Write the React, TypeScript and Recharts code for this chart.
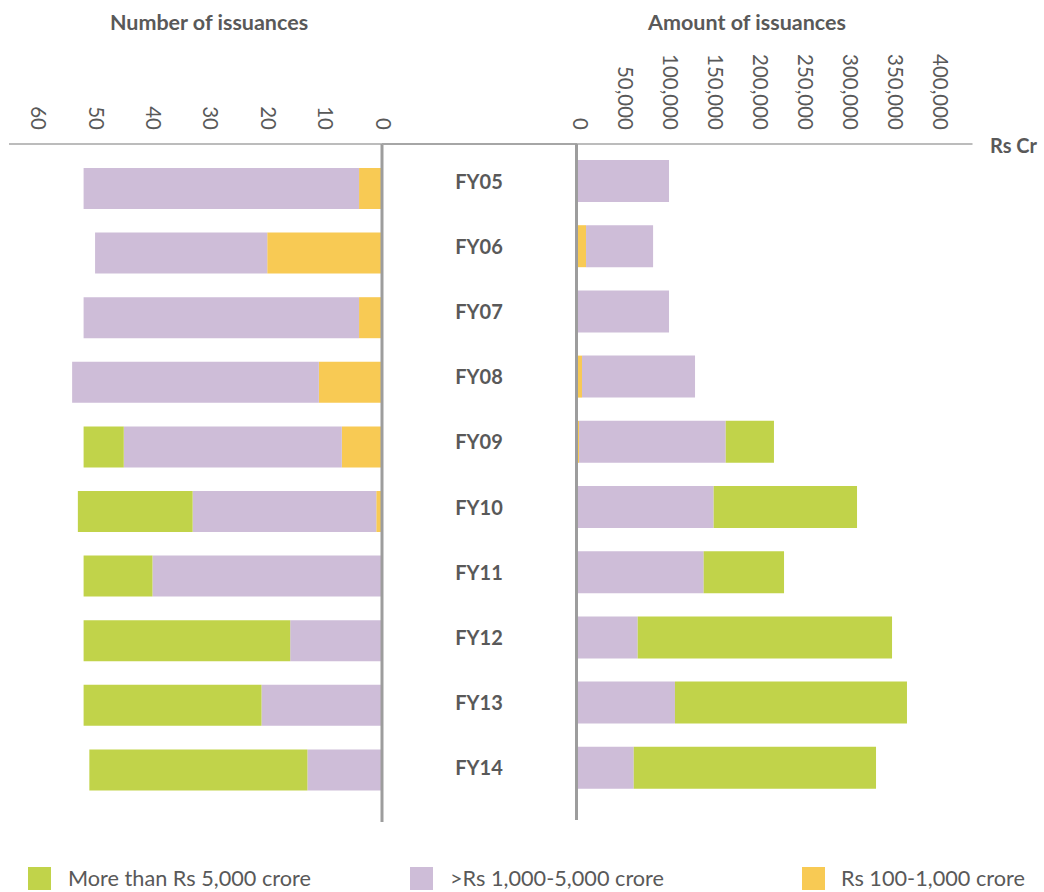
import { BarChart, Bar, XAxis, YAxis } from "recharts";

const categories = ["FY05", "FY06", "FY07", "FY08", "FY09", "FY10", "FY11", "FY12", "FY13", "FY14"];

// number of issuances, by size of issue
const countAbove5000 = [0, 0, 0, 0, 7, 20, 12, 36, 31, 38];
const count1000To5000 = [48, 30, 48, 43, 38, 32, 40, 16, 21, 13];
const count100To1000 = [4, 20, 4, 11, 7, 1, 0, 0, 0, 0];

// amount of issuances (Rs Cr), by size of issue
const amountAbove5000 = [0, 0, 0, 0, 53600, 159300, 89300, 282600, 257800, 269200];
const amount1000To5000 = [102800, 74500, 102800, 125600, 163000, 151900, 141300, 68000, 109400, 63600];
const amount100To1000 = [0, 10600, 0, 6100, 2800, 500, 0, 0, 0, 0];

const countTicks = [0, 10, 20, 30, 40, 50, 60];
const amountTicks = [0, 50000, 100000, 150000, 200000, 250000, 300000, 350000, 400000];

const seriesNames = ["More than Rs 5,000 crore", ">Rs 1,000-5,000 crore", "Rs 100-1,000 crore"];

const GREEN = "#C1D34A";
const PURPLE = "#CEBDD8";
const YELLOW = "#F8CA54";
const TEXT = "#595959";
const FONT = "Lato, 'Open Sans', sans-serif";

const countData = categories.map((cat, i) => ({
  cat,
  big: countAbove5000[i],
  mid: count1000To5000[i],
  small: count100To1000[i],
}));

const amountData = categories.map((cat, i) => ({
  cat,
  big: amountAbove5000[i],
  mid: amount1000To5000[i],
  small: amount100To1000[i],
}));

const TopTick = (props: any) => {
  const { x, payload, shift = 0 } = props;
  return (
    <text
      transform={`translate(${x + shift},130) rotate(90)`}
      textAnchor="end"
      dominantBaseline="central"
      fill={TEXT}
      fontSize={20.5}
      fontFamily={FONT}
    >
      {Number(payload.value).toLocaleString("en-US")}
    </text>
  );
};

const CatTick = (props: any) => {
  const { y, payload } = props;
  return (
    <text
      x={79}
      y={y}
      textAnchor="middle"
      dominantBaseline="central"
      fill={TEXT}
      fontSize={20}
      fontWeight={700}
      fontFamily={FONT}
    >
      {payload.value}
    </text>
  );
};

const legendItems = [
  { name: seriesNames[0], color: GREEN, box: 28, text: 68 },
  { name: seriesNames[1], color: PURPLE, box: 410, text: 450 },
  { name: seriesNames[2], color: YELLOW, box: 802, text: 841 },
];

export default function App() {
  return (
    <div
      style={{
        position: "absolute",
        left: 0,
        top: 0,
        width: 1044,
        height: 892,
        background: "#fff",
        fontFamily: FONT,
        color: TEXT,
      }}
    >
      <div style={{ position: "absolute", left: 0, top: 10, width: 418, textAlign: "center", fontSize: 21.5, fontWeight: 700, lineHeight: "24px" }}>
        Number of issuances
      </div>
      <div style={{ position: "absolute", left: 560, top: 10, width: 374, textAlign: "center", fontSize: 21.5, fontWeight: 700, lineHeight: "24px" }}>
        Amount of issuances
      </div>

      <div style={{ position: "absolute", left: 0, top: 0 }}>
        <BarChart
          width={400}
          height={892}
          data={countData}
          layout="vertical"
          barSize={41}
          margin={{ top: 104, right: 17, bottom: 70, left: 9 }}
        >
          <XAxis
            type="number"
            orientation="top"
            reversed
            domain={[0, 65]}
            ticks={countTicks}
            height={40}
            tickLine={false}
            axisLine={{ stroke: "#A6A6A6", strokeWidth: 1.5 }}
            tick={<TopTick shift={1.5} />}
            interval={0}
          />
          <YAxis
            type="category"
            dataKey="cat"
            orientation="right"
            width={1}
            tick={false}
            tickLine={false}
            axisLine={{ stroke: "#9D9D9D", strokeWidth: 3 }}
            padding={{ top: 12, bottom: 20 }}
          />
          <Bar dataKey="small" stackId="n" fill={YELLOW} isAnimationActive={false} />
          <Bar dataKey="mid" stackId="n" fill={PURPLE} isAnimationActive={false} />
          <Bar dataKey="big" stackId="n" fill={GREEN} isAnimationActive={false} />
        </BarChart>
      </div>

      <div style={{ position: "absolute", left: 382, top: 143.25, width: 195, height: 1.5, background: "#A6A6A6" }} />

      <div style={{ position: "absolute", left: 400, top: 0 }}>
        <BarChart
          width={644}
          height={892}
          data={amountData}
          layout="vertical"
          barSize={42}
          margin={{ top: 104, right: 71.5, bottom: 72, left: 175.5 }}
        >
          <XAxis
            type="number"
            orientation="top"
            domain={[0, 440000]}
            ticks={amountTicks}
            height={40}
            tickLine={false}
            axisLine={{ stroke: "#A6A6A6", strokeWidth: 1.5 }}
            tick={<TopTick shift={4} />}
            interval={0}
          />
          <YAxis
            type="category"
            dataKey="cat"
            orientation="left"
            width={1}
            tick={<CatTick />}
            tickLine={false}
            axisLine={{ stroke: "#9D9D9D", strokeWidth: 3 }}
            padding={{ top: 4, bottom: 20 }}
          />
          <Bar dataKey="small" stackId="a" fill={YELLOW} isAnimationActive={false} />
          <Bar dataKey="mid" stackId="a" fill={PURPLE} isAnimationActive={false} />
          <Bar dataKey="big" stackId="a" fill={GREEN} isAnimationActive={false} />
        </BarChart>
      </div>

      <div style={{ position: "absolute", left: 990, top: 133, fontSize: 20, fontWeight: 700, lineHeight: "24px" }}>Rs Cr</div>

      {legendItems.map((item) => (
        <div key={item.name}>
          <div style={{ position: "absolute", left: item.box, top: 867, width: 23, height: 23, background: item.color }} />
          <div style={{ position: "absolute", left: item.text, top: 866, fontSize: 21.7, lineHeight: "24px", whiteSpace: "nowrap" }}>
            {item.name}
          </div>
        </div>
      ))}
    </div>
  );
}
